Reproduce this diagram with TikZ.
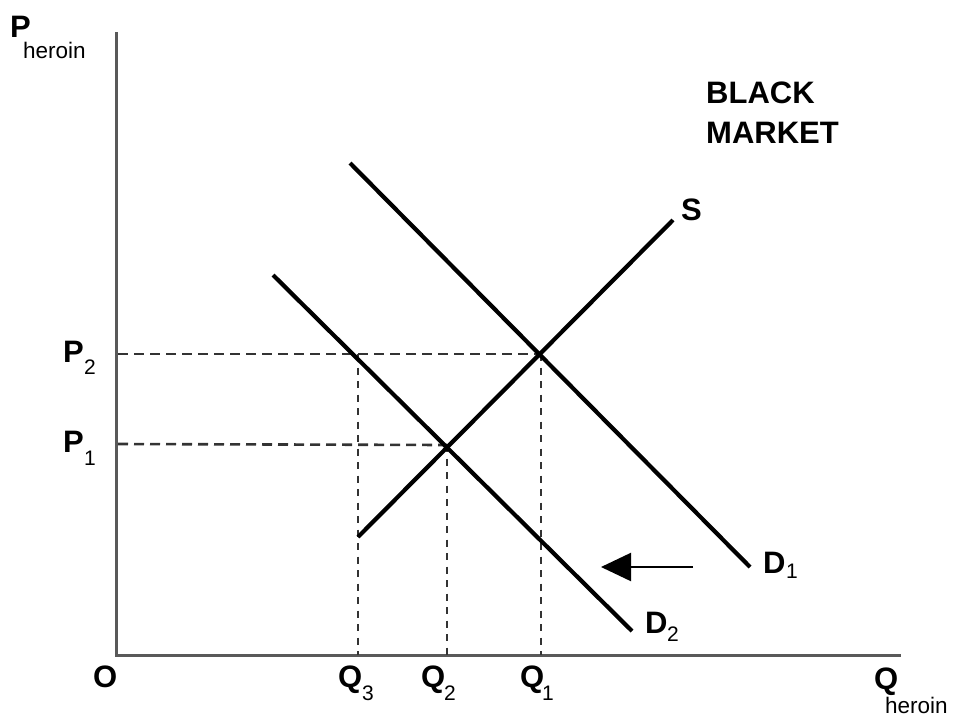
\documentclass[tikz,border=0pt]{standalone}
\usepackage{fontspec}
\setmainfont{Liberation Sans}
\usetikzlibrary{arrows.meta}
\begin{document}
\begin{tikzpicture}[x=1pt,y=-1pt,
  axis/.style={line width=3pt, draw=black!65},
  curve/.style={line width=4.2pt},
  hguide/.style={line width=2.6pt, dash pattern=on 10pt off 6pt, draw=black!80},
  vguide/.style={line width=2.6pt, dash pattern=on 7pt off 6.5pt, draw=black!80},
  big/.style={inner sep=0pt, anchor=base west, font=\fontsize{31}{37}\selectfont\bfseries},
  small/.style={inner sep=0pt, anchor=base west, font=\fontsize{21}{25}\selectfont},
  shiftarrow/.style={line width=2.2pt, -{Triangle[length=30pt,width=28pt]}}
]
\useasboundingbox (0,0) rectangle (953,716);
% axes
\coordinate (O0) at (116,655);
\coordinate (Ytop) at (116,32);
\coordinate (Xend) at (901,655);
\draw[axis] (Ytop) -- (O0) -- (Xend);
% curves
\coordinate (D1a) at (350,163);
\coordinate (D1b) at (750,567);
\coordinate (D2a) at (273,275);
\coordinate (D2b) at (632,631);
\coordinate (Sa) at (358,537);
\coordinate (Sb) at (673,220);
\coordinate (E1) at (541,354);
\coordinate (E2) at (447,445);
\coordinate (P2l) at (118,354);
\coordinate (P1l) at (118,444);
\coordinate (Q3t) at (358,354);
\coordinate (Q1b) at (541,655);
\coordinate (Q2b) at (447,655);
\coordinate (Q3b) at (358,655);
% guides
\draw[hguide] (P2l) -- (E1);
\draw[hguide] (P1l) -- (E2);
\draw[vguide] (E1) -- (Q1b);
\draw[vguide] (E2) -- (Q2b);
\draw[vguide] (Q3t) -- (Q3b);
\draw[curve] (D1a) -- (D1b);
\draw[curve] (D2a) -- (D2b);
\draw[curve] (Sa) -- (Sb);
% arrow
\coordinate (Ar0) at (693,567);
\coordinate (Ar1) at (601,567);
\draw[shiftarrow] (Ar0) -- (Ar1);
% labels
\node[big] (Plab) at (10,37) {P};
\node[small, font=\fontsize{22.5}{26}\selectfont] (Pher) at (23,58) {heroin};
\node[big] (black) at (706,103) {BLACK};
\node[big] (market) at (706,143) {MARKET};
\node[big] (Slab) at (681,220) {S};
\node[big] (P2) at (63,362) {P};
\node[small] (P2s) at (84,374) {2};
\node[big] (P1) at (63,452) {P};
\node[small] (P1s) at (84,465) {1};
\node[big] (Olab) at (93,687) {O};
\node[big] (Q3) at (338,687) {Q};
\node[small] (Q3s) at (362,700) {3};
\node[big] (Q2) at (421,687) {Q};
\node[small] (Q2s) at (444,700) {2};
\node[big] (Q1) at (520,687) {Q};
\node[small] (Q1s) at (542,700) {1};
\node[big] (D1) at (763,573) {D};
\node[small] (D1s) at (786,578) {1};
\node[big] (D2) at (645,633) {D};
\node[small] (D2s) at (667,641) {2};
\node[big] (Qlab) at (874,689) {Q};
\node[small, font=\fontsize{22.5}{26}\selectfont] (Qher) at (885,713) {heroin};
\end{tikzpicture}
\end{document}
